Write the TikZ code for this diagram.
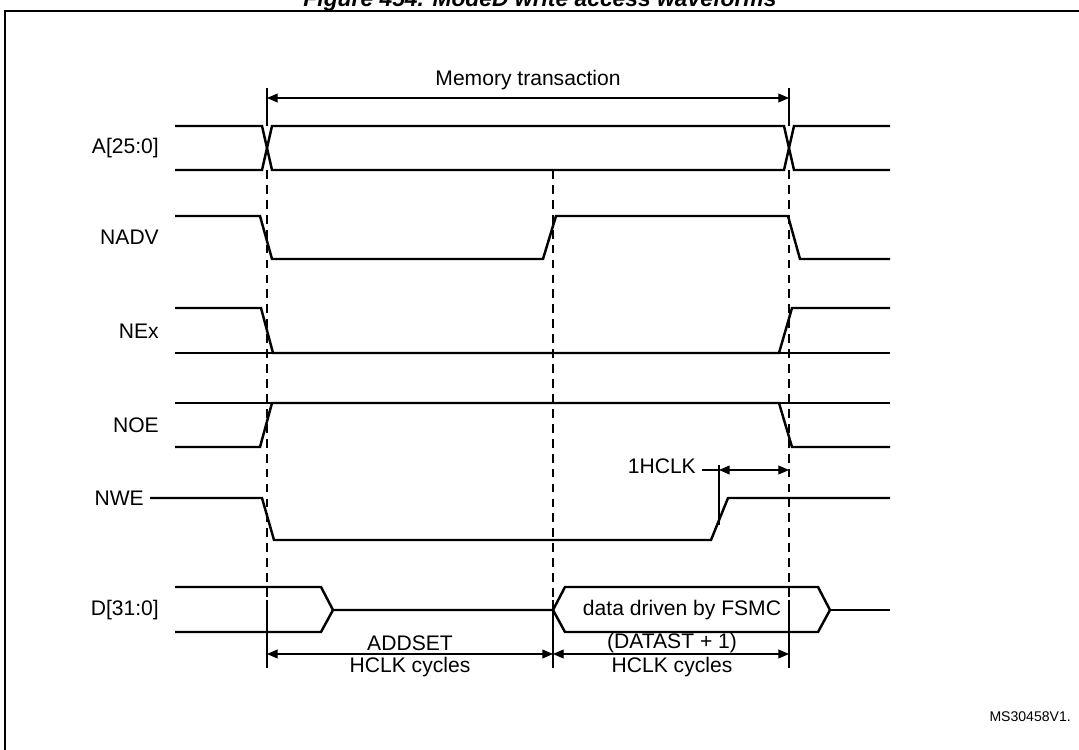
\documentclass[tikz,border=0pt]{standalone}
\usepackage{fontspec}
\setmainfont{Liberation Sans}
\usetikzlibrary{arrows.meta}
\begin{document}
\begin{tikzpicture}[x=0.02cm,y=-0.02cm,
  wave/.style={line width=1.4pt},
  thin/.style={line width=0.6pt},
  dashln/.style={line width=0.6pt,dash pattern=on 5pt off 3.5pt},
  dim/.style={line width=0.6pt,{Triangle[length=6pt,width=5pt]}-{Triangle[length=6pt,width=5pt]}},
  lbl/.style={anchor=east,font=\fontsize{12pt}{13pt}\selectfont},
  txt/.style={font=\fontsize{12pt}{13pt}\selectfont}]
\useasboundingbox (0,0) rectangle (1079,750);
\clip (0,0) rectangle (1079,750);
\node[font=\bfseries\itshape\fontsize{13pt}{14pt}\selectfont] (title) at (540,1) {Figure 454. ModeD write access waveforms};
\draw[line width=1pt] (1085,11) -- (5,11) -- (5,760);
% dashed lines
\coordinate (d1t) at (267,170); \coordinate (d1b) at (267,600);
\coordinate (d2t) at (553,170); \coordinate (d2b) at (553,600);
\coordinate (d3t) at (789,170); \coordinate (d3b) at (789,600);
\draw[dashln] (d1t) -- (d1b); \draw[dashln] (d2t) -- (d2b); \draw[dashln] (d3t) -- (d3b);
% memory transaction
\coordinate (m1) at (267,98); \coordinate (m2) at (789,98);
\draw[thin] (267,88) -- (267,126); \draw[thin] (789,88) -- (789,126);
\draw[dim] (m1) -- (m2);
\node[txt] (mt) at (528,80) {Memory transaction};
% labels
\node[lbl] (la) at (165,148) {A[25:0]};
\node[lbl] (lnadv) at (165,237) {NADV};
\node[lbl] (lnex) at (165,331) {NEx};
\node[lbl] (lnoe) at (165,425) {NOE};
\node[lbl] (lnwe) at (150,498) {NWE};
\node[lbl] (ld) at (165,610) {D[31:0]};
% A
\draw[wave] (175,126) -- (262,126) -- (272,170) -- (784,170) -- (794,126) -- (890,126);
\draw[wave] (175,170) -- (262,170) -- (272,126) -- (784,126) -- (794,170) -- (890,170);
% NADV
\draw[wave] (175,216) -- (260,216) -- (272,259) -- (543,259) -- (556,216) -- (788,216) -- (800,259) -- (890,259);
% NEx
\draw[wave] (175,308) -- (261,308) -- (273,353) -- (779,353) -- (792,308) -- (890,308);
\draw[wave] (175,353) -- (890,353);
% NOE
\draw[wave] (175,447) -- (260,447) -- (272,403) -- (779,403) -- (792,447) -- (890,447);
\draw[wave] (175,403) -- (890,403);
% NWE
\draw[wave] (lnwe.east) -- (262,498) -- (274,540) -- (711,540) -- (728,498) -- (890,498);
\draw[thin] (719,465) -- (719,525);
\coordinate (h1) at (719,470); \coordinate (h2) at (789,470);
\draw[dim] (h1) -- (h2);
\node[txt,anchor=east] (hc) at (702,466) {1HCLK};
\draw[thin] (hc.east |- h1) -- (h1);
% D
\draw[wave] (175,587) -- (321,587) -- (333,610) -- (321,632) -- (175,632);
\draw[wave] (333,610) -- (553,610) -- (565,587) -- (818,587) -- (830,610) -- (818,632) -- (565,632) -- (553,610);
\draw[wave] (830,610) -- (890,610);
\node[txt] (dd) at (682,610) {data driven by FSMC};
% bottom dims
\draw[thin] (267,600) -- (267,668); \draw[thin] (553,600) -- (553,668); \draw[thin] (789,600) -- (789,668);
\coordinate (b1) at (267,654); \coordinate (b2) at (553,654); \coordinate (b3) at (789,654);
\draw[dim] (b1) -- (b2); \draw[dim] (b2) -- (b3);
\node[txt] (a1) at (410,643) {ADDSET};
\node[txt] (a2) at (410,667) {HCLK cycles};
\node[txt] (c1) at (672,643) {(DATAST + 1)};
\node[txt] (c2) at (672,667) {HCLK cycles};
\node[anchor=east,font=\fontsize{8pt}{9pt}\selectfont] (ms) at (1077,717) {MS30458V1.};
\end{tikzpicture}
\end{document}
